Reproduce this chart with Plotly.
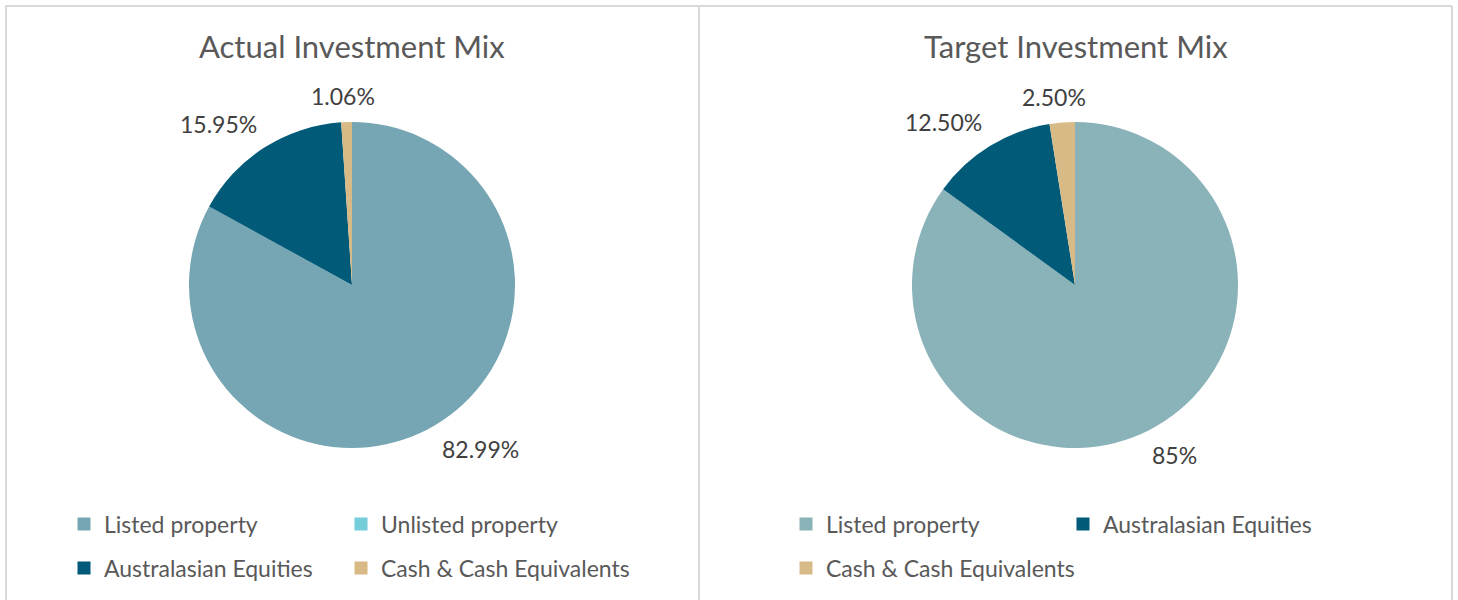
import math
import plotly.graph_objects as go

categories = ["Listed property", "Unlisted property", "Australasian Equities", "Cash & Cash Equivalents"]
actual_values = [82.99, 0.0, 15.95, 1.06]
actual_labels = ["82.99%", "", "15.95%", "1.06%"]
actual_colors = ["#76A5B3", "#74CDD9", "#005A78", "#D8BA87"]

target_categories = ["Listed property", "Australasian Equities", "Cash & Cash Equivalents"]
target_values = [85.0, 12.5, 2.5]
target_labels = ["85%", "12.50%", "2.50%"]
target_colors = ["#8AB2B9", "#005A78", "#D8BA87"]

titles = ["Actual Investment Mix", "Target Investment Mix"]

W, H = 1458, 600
FONT = "Lato, 'Open Sans', sans-serif"
LABEL_SIZE = 23

def px(x):
    return x / W

def py(y):
    return 1 - y / H

fig = go.Figure()

R = 163
CY = 285
def dom(cx, cy):
    return dict(x=[px(cx - R), px(cx + R)], y=[py(cy + R), py(cy - R)])

annotations = []

def clamp(v):
    return max(-1.0, min(1.0, v))

for vals, labs, cats, cols, cx in [
    (actual_values, actual_labels, categories, actual_colors, 352),
    (target_values, target_labels, target_categories, target_colors, 1075),
]:
    fig.add_trace(go.Pie(
        labels=cats, values=vals, textinfo="none",
        marker=dict(colors=cols, line=dict(width=0)),
        sort=False, direction="clockwise", rotation=0,
        domain=dom(cx, CY), showlegend=False, hoverinfo="label+percent",
    ))
    # outside-end data labels, placed from each slice's mid angle
    total = sum(vals)
    cum = 0.0
    for v, lab in zip(vals, labs):
        mid = (cum + v / 2) / total * 2 * math.pi
        cum += v
        if not lab:
            continue
        ux, uy = math.sin(mid), -math.cos(mid)
        hw = len(lab) * LABEL_SIZE * 0.28
        hh = LABEL_SIZE * 0.52
        lx = cx + ux * (R + 14) + hw * clamp(ux * 3)
        ly = CY + uy * (R + 14) + hh * clamp(uy * 3)
        annotations.append(dict(text=lab, x=px(lx), y=py(ly), xref="paper", yref="paper",
                                showarrow=False, xanchor="center", yanchor="middle",
                                font=dict(family=FONT, size=LABEL_SIZE, color="#404040")))

# legend entries: one legend per entry so that columns and rows match
left_slots = [(0, 0, 0), (1, 1, 0), (2, 0, 1), (3, 1, 1)]
right_slots = [(0, 0, 0), (1, 1, 0), (2, 0, 1)]
layout_legends = {}
n = 0
for slots, cats, cols, x0 in [(left_slots, categories, actual_colors, 64),
                              (right_slots, target_categories, target_colors, 786)]:
    for i, col, row in slots:
        n += 1
        name = "legend" if n == 1 else f"legend{n}"
        fig.add_trace(go.Scatter(
            x=[None], y=[None], mode="markers", name=cats[i],
            marker=dict(symbol="square", size=13, color=cols[i]),
            legend=name, showlegend=True,
        ))
        layout_legends[name] = dict(
            orientation="h", font=dict(family=FONT, size=23, color="#595959"),
            bgcolor="rgba(0,0,0,0)", xanchor="left", yanchor="middle", itemwidth=30,
            x=px(x0 + 277 * col), y=py(524 + 44 * row),
        )

for t, cx in zip(titles, [352, 1076]):
    annotations.append(dict(text=t, x=px(cx), y=py(46), xref="paper", yref="paper",
                            showarrow=False, xanchor="center", yanchor="middle",
                            font=dict(family=FONT, size=31, color="#595959")))

border = dict(color="#D9D9D9", width=2)
shapes = [
    dict(type="line", xref="paper", yref="paper", x0=px(5), x1=px(1452), y0=py(6), y1=py(6), line=border),
    dict(type="line", xref="paper", yref="paper", x0=px(6), x1=px(6), y0=py(6), y1=py(605), line=border),
    dict(type="line", xref="paper", yref="paper", x0=px(699), x1=px(699), y0=py(6), y1=py(605), line=border),
    dict(type="line", xref="paper", yref="paper", x0=px(1452), x1=px(1452), y0=py(6), y1=py(605), line=border),
]

fig.update_layout(
    width=W, height=H, margin=dict(l=0, r=0, t=0, b=0),
    paper_bgcolor="white", plot_bgcolor="white",
    xaxis=dict(visible=False), yaxis=dict(visible=False),
    annotations=annotations, shapes=shapes,
    **layout_legends,
)

fig.write_html("out.html")
